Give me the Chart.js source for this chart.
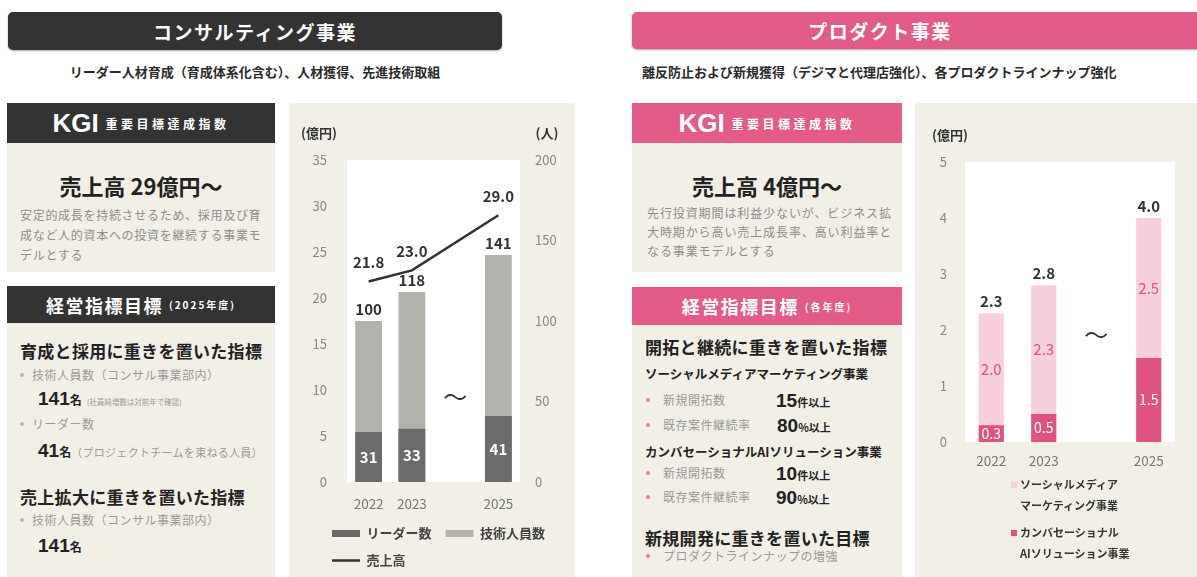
<!DOCTYPE html>
<html lang="ja">
<head>
<meta charset="utf-8">
<script src="https://cdn.jsdelivr.net/npm/chart.js@4.4.1/dist/chart.umd.min.js"></script>
<style>
  html,body{margin:0;padding:0;}
  body{width:1197px;height:577px;overflow:hidden;position:relative;background:#fff;
       font-family:"Noto Sans CJK JP","Noto Sans",sans-serif;color:#222;}
  .a{position:absolute;white-space:nowrap;}
  .bar{position:absolute;border-radius:5px;color:#fff;font-weight:bold;font-size:19px;letter-spacing:1.5px;
       display:flex;align-items:center;justify-content:center;box-shadow:0 1px 2px rgba(0,0,0,.35);}
  .dark{background:#333333;}
  .pink{background:#e35c87;}
  .hd{position:absolute;color:#fff;display:flex;align-items:center;justify-content:center;}
  .bg{position:absolute;background:#f2f0e6;}
  .sub{font-size:13px;font-weight:bold;line-height:16px;color:#2a2a2a;}
  .kgi{font-family:"Liberation Sans",Arial,sans-serif;font-weight:bold;font-size:26px;}
  .kgij{font-size:12px;letter-spacing:3.5px;margin-left:7px;font-weight:bold;}
  .mh{font-size:18px;letter-spacing:1.5px;font-weight:bold;}
  .ms{font-size:10px;letter-spacing:2px;margin-left:6px;font-weight:bold;}
  .big{font-size:22px;font-weight:bold;line-height:26px;text-align:center;color:#222;}
  .desc{font-size:12px;color:#8d8d8d;letter-spacing:0.7px;}
  .h{font-size:17px;font-weight:bold;line-height:20px;letter-spacing:0.3px;color:#222;}
  .g{font-size:12px;color:#9a9a9a;line-height:20px;letter-spacing:0.5px;}
  .sh{font-size:12.5px;font-weight:bold;line-height:20px;color:#222;}
  .dot{position:absolute;width:4px;height:4px;border-radius:2px;}
  .num{font-family:"Liberation Sans",Arial,sans-serif;font-weight:bold;font-size:19px;color:#222;}
  .unit{font-size:12px;font-weight:bold;color:#222;}
  .tiny{font-size:7.5px;color:#9a9a9a;margin-left:5px;}
  .note{font-size:11px;color:#9a9a9a;letter-spacing:0.3px;}
  .ax{font-size:13px;font-weight:bold;color:#333;line-height:16px;transform:translateX(-50%);}
  .chartbox{position:absolute;background:#f2f0e6;}
  #plegend{position:absolute;left:1011px;top:474px;font-size:11px;font-weight:bold;color:#333;}
  #plegend .it{position:relative;padding-left:9px;line-height:21px;margin-bottom:6px;}
  #plegend .bx{position:absolute;left:0;top:8px;width:6px;height:6px;}
</style>
</head>
<body>

<!-- section headers -->
<div class="bar dark" style="left:8px;top:12px;width:494px;height:38px;">コンサルティング事業</div>
<div class="a sub" style="left:0;width:510px;text-align:center;top:64px;">リーダー人材育成（育成体系化含む）、人材獲得、先進技術取組</div>

<div class="bar pink" style="left:632px;top:12px;width:570px;height:37px;padding-right:74px;box-sizing:border-box;">プロダクト事業</div>
<div class="a sub" style="left:642px;top:64px;">離反防止および新規獲得（デジマと代理店強化）、各プロダクトラインナップ強化</div>

<!-- left KGI -->
<div class="hd dark" style="left:7px;top:103px;width:268px;height:40px;"><span class="kgi">KGI</span><span class="kgij">重要目標達成指数</span></div>
<div class="bg" style="left:7px;top:143px;width:268px;height:129px;"></div>
<div class="a big" style="left:7px;width:268px;top:172px;">売上高 29億円〜</div>
<div class="a desc" style="left:20px;top:205px;line-height:20px;">安定的成長を持続させるため、採用及び育<br>成など人的資本への投資を継続する事業モ<br>デルとする</div>

<!-- left management targets -->
<div class="hd dark" style="left:7px;top:286px;width:268px;height:37px;"><span class="mh">経営指標目標</span><span class="ms">(2025年度)</span></div>
<div class="bg" style="left:7px;top:323px;width:268px;height:254px;"></div>
<div class="a h" style="left:20px;top:341px;">育成と採用に重きを置いた指標</div>
<div class="dot" style="left:20px;top:373px;background:#b5b5b5;"></div>
<div class="a g" style="left:32px;top:365px;">技術人員数（コンサル事業部内）</div>
<div class="a" style="left:38px;top:386px;line-height:24px;"><span class="num">141</span><span class="unit">名</span><span class="tiny">(社員純増数は対前年で確認)</span></div>
<div class="dot" style="left:20px;top:422px;background:#b5b5b5;"></div>
<div class="a g" style="left:32px;top:414px;">リーダー数</div>
<div class="a" style="left:38px;top:438px;line-height:24px;"><span class="num">41</span><span class="unit">名</span><span class="note">（プロジェクトチームを束ねる人員）</span></div>
<div class="a h" style="left:20px;top:487px;">売上拡大に重きを置いた指標</div>
<div class="dot" style="left:20px;top:518px;background:#b5b5b5;"></div>
<div class="a g" style="left:32px;top:510px;">技術人員数（コンサル事業部内）</div>
<div class="a" style="left:38px;top:533px;line-height:24px;"><span class="num">141</span><span class="unit">名</span></div>

<!-- right KGI -->
<div class="hd pink" style="left:632px;top:103px;width:270px;height:40px;"><span class="kgi">KGI</span><span class="kgij">重要目標達成指数</span></div>
<div class="bg" style="left:632px;top:143px;width:270px;height:129px;"></div>
<div class="a big" style="left:632px;width:270px;top:172px;">売上高 4億円〜</div>
<div class="a desc" style="left:647px;top:203px;line-height:19px;letter-spacing:0.9px;">先行投資期間は利益少ないが、ビジネス拡<br>大時期から高い売上成長率、高い利益率と<br>なる事業モデルとする</div>

<!-- right management targets -->
<div class="hd pink" style="left:632px;top:287px;width:270px;height:38px;"><span class="mh">経営指標目標</span><span class="ms">(各年度)</span></div>
<div class="bg" style="left:632px;top:325px;width:270px;height:252px;"></div>
<div class="a h" style="left:645px;top:337px;">開拓と継続に重きを置いた指標</div>
<div class="a sh" style="left:645px;top:364px;">ソーシャルメディアマーケティング事業</div>
<div class="dot" style="left:646px;top:398px;background:#e8789c;"></div>
<div class="a g" style="left:663px;top:390px;">新規開拓数</div>
<div class="a" style="left:776px;top:388px;line-height:24px;"><span class="num">15</span><span class="unit" style="font-size:11px;">件以上</span></div>
<div class="dot" style="left:646px;top:423px;background:#e8789c;"></div>
<div class="a g" style="left:663px;top:415px;">既存案件継続率</div>
<div class="a" style="left:777px;top:413px;line-height:24px;"><span class="num">80</span><span class="unit" style="font-size:11px;">%以上</span></div>
<div class="a sh" style="left:645px;top:442px;">カンバセーショナルAIソリューション事業</div>
<div class="dot" style="left:646px;top:471px;background:#e8789c;"></div>
<div class="a g" style="left:663px;top:463px;">新規開拓数</div>
<div class="a" style="left:776px;top:461px;line-height:24px;"><span class="num">10</span><span class="unit" style="font-size:11px;">件以上</span></div>
<div class="dot" style="left:646px;top:495px;background:#e8789c;"></div>
<div class="a g" style="left:663px;top:487px;">既存案件継続率</div>
<div class="a" style="left:776px;top:485px;line-height:24px;"><span class="num">90</span><span class="unit" style="font-size:11px;">%以上</span></div>
<div class="a h" style="left:645px;top:528px;">新規開発に重きを置いた目標</div>
<div class="dot" style="left:646px;top:554px;background:#e8789c;"></div>
<div class="a g" style="left:663px;top:546px;">プロダクトラインナップの増強</div>

<!-- charts -->
<div class="chartbox" style="left:289px;top:103px;width:286px;height:474px;"><canvas id="cChart"></canvas></div>
<div class="a ax" style="left:319px;top:125px;">(億円)</div>
<div class="a ax" style="left:547px;top:125px;">(人)</div>

<div class="chartbox" style="left:915px;top:103px;width:282px;height:474px;"><canvas id="pChart"></canvas></div>
<div class="a ax" style="left:950px;top:127px;">(億円)</div>
<div id="plegend"></div>

<script>
// ---------- data ----------
const consultingYears   = ['2022', '2023', '', '2025'];
const leaderCount       = [31, 33, null, 41];
const techStaffCount    = [100, 118, null, 141];
const consultingRevenue = [21.8, 23.0, null, 29.0];
const revenueTicks      = [0, 5, 10, 15, 20, 25, 30, 35];
const peopleTicks       = [0, 50, 100, 150, 200];

const productYears          = ['2022', '2023', '', '2025'];
const conversationalAiSales = [0.3, 0.5, null, 1.5];
const socialMediaSales      = [2.0, 2.3, null, 2.5];
const productTotals         = [2.3, 2.8, null, 4.0];
const productTicks          = [0, 1, 2, 3, 4, 5];

const consultingSeries = ['リーダー数', '技術人員数', '売上高'];
const productSeries    = ['カンバセーショナル\nAIソリューション事業', 'ソーシャルメディア\nマーケティング事業'];

// ---------- setup ----------
const FONT = '"Noto Sans CJK JP","Noto Sans",sans-serif';
Chart.defaults.font.family = FONT;
Chart.defaults.animation = false;

const plotBg = {
  id: 'plotBg',
  beforeDraw(chart) {
    const {ctx, chartArea: a} = chart;
    ctx.save(); ctx.fillStyle = '#ffffff';
    ctx.fillRect(a.left, a.top, a.right - a.left, a.bottom - a.top);
    ctx.restore();
  }
};
const gapMark = {
  id: 'gapMark',
  afterDraw(chart, args, o) {
    const {ctx, chartArea: a} = chart;
    const x = chart.scales.x.getPixelForValue(o.index);
    const y = a.top + (a.bottom - a.top) * o.frac;
    ctx.save();
    ctx.font = o.size + 'px ' + FONT; ctx.fillStyle = '#333';
    ctx.textAlign = 'center'; ctx.textBaseline = 'middle';
    ctx.fillText('〜', x, y);
    ctx.restore();
  }
};
// lets the legend rows start further right than the axis block
const legendIndent = {
  id: 'legendIndent',
  afterLayout(chart, args, o) { if (chart.legend) chart.legend.left = o.left; }
};
function ticksFrom(arr) { return (s) => { s.ticks = arr.map(v => ({value: v})); }; }

// ---------- consulting chart ----------
const consultingLabels = {
  id: 'consultingLabels',
  afterDatasetsDraw(chart) {
    const ctx = chart.ctx;
    ctx.save(); ctx.textAlign = 'center'; ctx.textBaseline = 'middle';
    ctx.font = 'bold 15px ' + FONT;
    chart.getDatasetMeta(1).data.forEach((el, i) => {
      if (techStaffCount[i] == null) return;
      ctx.fillStyle = '#333'; ctx.fillText(String(techStaffCount[i]), el.x, el.y - 12);
    });
    chart.getDatasetMeta(0).data.forEach((el, i) => {
      if (leaderCount[i] == null) return;
      ctx.fillStyle = '#fff'; ctx.fillText(String(leaderCount[i]), el.x, (el.y + el.base) / 2);
    });
    chart.getDatasetMeta(2).data.forEach((el, i) => {
      if (consultingRevenue[i] == null) return;
      ctx.fillStyle = '#333'; ctx.fillText(consultingRevenue[i].toFixed(1), el.x, el.y - 19);
    });
    ctx.restore();
  }
};

new Chart(document.getElementById('cChart'), {
  type: 'bar',
  data: {
    labels: consultingYears,
    datasets: [
      {label: consultingSeries[0], data: leaderCount, yAxisID: 'y1', backgroundColor: '#6b6b6b',
       barPercentage: 0.62, categoryPercentage: 1, pointStyle: 'rect'},
      {label: consultingSeries[1], data: techStaffCount, yAxisID: 'y1', backgroundColor: '#b3b3ae',
       barPercentage: 0.62, categoryPercentage: 1, pointStyle: 'rect'},
      {label: consultingSeries[2], data: consultingRevenue, type: 'line', yAxisID: 'y', borderColor: '#333',
       backgroundColor: '#333', borderWidth: 2.5, pointRadius: 0, spanGaps: true, tension: 0, pointStyle: 'line'}
    ]
  },
  options: {
    responsive: true, maintainAspectRatio: false,
    layout: {padding: {left: 8, right: 0, top: 57, bottom: 0}},
    scales: {
      x: {stacked: true, grid: {display: false, drawTicks: false}, border: {display: false},
          afterFit: s => { s.height = 31; },
          ticks: {color: '#777', font: {size: 13.5}, padding: 14}},
      y: {position: 'left', min: revenueTicks[0], max: revenueTicks[revenueTicks.length - 1],
          afterBuildTicks: ticksFrom(revenueTicks), afterFit: s => { s.width = 50; },
          grid: {display: false, drawTicks: false}, border: {display: false},
          ticks: {color: '#888', font: {size: 13}, padding: 20}},
      y1: {position: 'right', stacked: false, min: peopleTicks[0], max: peopleTicks[peopleTicks.length - 1],
          afterBuildTicks: ticksFrom(peopleTicks), afterFit: s => { s.width = 55; },
          grid: {display: false, drawTicks: false}, border: {display: false},
          ticks: {color: '#888', font: {size: 13}, padding: 15}}
    },
    plugins: {
      legend: {position: 'bottom', align: 'start',
        labels: {usePointStyle: true, pointStyleWidth: 28, boxHeight: 7, padding: 14,
                 color: '#444', font: {size: 13, weight: 'bold'}}},
      tooltip: {enabled: false},
      legendIndent: {left: 29},
      gapMark: {index: 2, frac: 0.736, size: 24}
    }
  },
  plugins: [plotBg, gapMark, legendIndent, consultingLabels]
});

// ---------- product chart ----------
const productLabels = {
  id: 'productLabels',
  afterDatasetsDraw(chart) {
    const ctx = chart.ctx;
    ctx.save(); ctx.textAlign = 'center'; ctx.textBaseline = 'middle';
    const ai = chart.getDatasetMeta(0).data, soc = chart.getDatasetMeta(1).data;
    ctx.font = '15px ' + FONT;
    soc.forEach((el, i) => {
      if (socialMediaSales[i] == null) return;
      ctx.fillStyle = '#de5482'; ctx.fillText(socialMediaSales[i].toFixed(1), el.x, (el.y + el.base) / 2);
    });
    ctx.font = '14px ' + FONT;
    ai.forEach((el, i) => {
      if (conversationalAiSales[i] == null) return;
      ctx.fillStyle = '#fff'; ctx.fillText(conversationalAiSales[i].toFixed(1), el.x, (el.y + el.base) / 2);
    });
    ctx.font = 'bold 15px ' + FONT;
    soc.forEach((el, i) => {
      if (productTotals[i] == null) return;
      ctx.fillStyle = '#333'; ctx.fillText(productTotals[i].toFixed(1), el.x, el.y - 12);
    });
    ctx.restore();
  }
};

const pChart = new Chart(document.getElementById('pChart'), {
  type: 'bar',
  data: {
    labels: productYears,
    datasets: [
      {label: productSeries[0], data: conversationalAiSales, backgroundColor: '#e0527f',
       barPercentage: 0.48, categoryPercentage: 1},
      {label: productSeries[1], data: socialMediaSales, backgroundColor: '#f7d0dc',
       barPercentage: 0.48, categoryPercentage: 1}
    ]
  },
  options: {
    responsive: true, maintainAspectRatio: false,
    layout: {padding: {left: 0, right: 22, top: 59, bottom: 107}},
    scales: {
      x: {stacked: true, grid: {display: false, drawTicks: false}, border: {display: false},
          afterFit: s => { s.height = 28; },
          ticks: {color: '#777', font: {size: 13.5}, padding: 11}},
      y: {stacked: true, min: productTicks[0], max: productTicks[productTicks.length - 1],
          afterBuildTicks: ticksFrom(productTicks), afterFit: s => { s.width = 50; },
          grid: {display: false, drawTicks: false}, border: {display: false},
          ticks: {color: '#888', font: {size: 13}, padding: 18}}
    },
    plugins: {
      legend: {display: false},
      tooltip: {enabled: false},
      gapMark: {index: 2, frac: 0.618, size: 24}
    }
  },
  plugins: [plotBg, gapMark, productLabels]
});

// HTML legend built from the chart's own legend items (listed top segment first)
(function () {
  const items = pChart.options.plugins.legend.labels.generateLabels(pChart).slice().reverse();
  const box = document.getElementById('plegend');
  items.forEach(it => {
    const d = document.createElement('div'); d.className = 'it';
    const b = document.createElement('span'); b.className = 'bx'; b.style.background = it.fillStyle;
    d.appendChild(b);
    String(it.text).split('\n').forEach((line, k) => {
      if (k) d.appendChild(document.createElement('br'));
      d.appendChild(document.createTextNode(line));
    });
    box.appendChild(d);
  });
})();
</script>
</body>
</html>
